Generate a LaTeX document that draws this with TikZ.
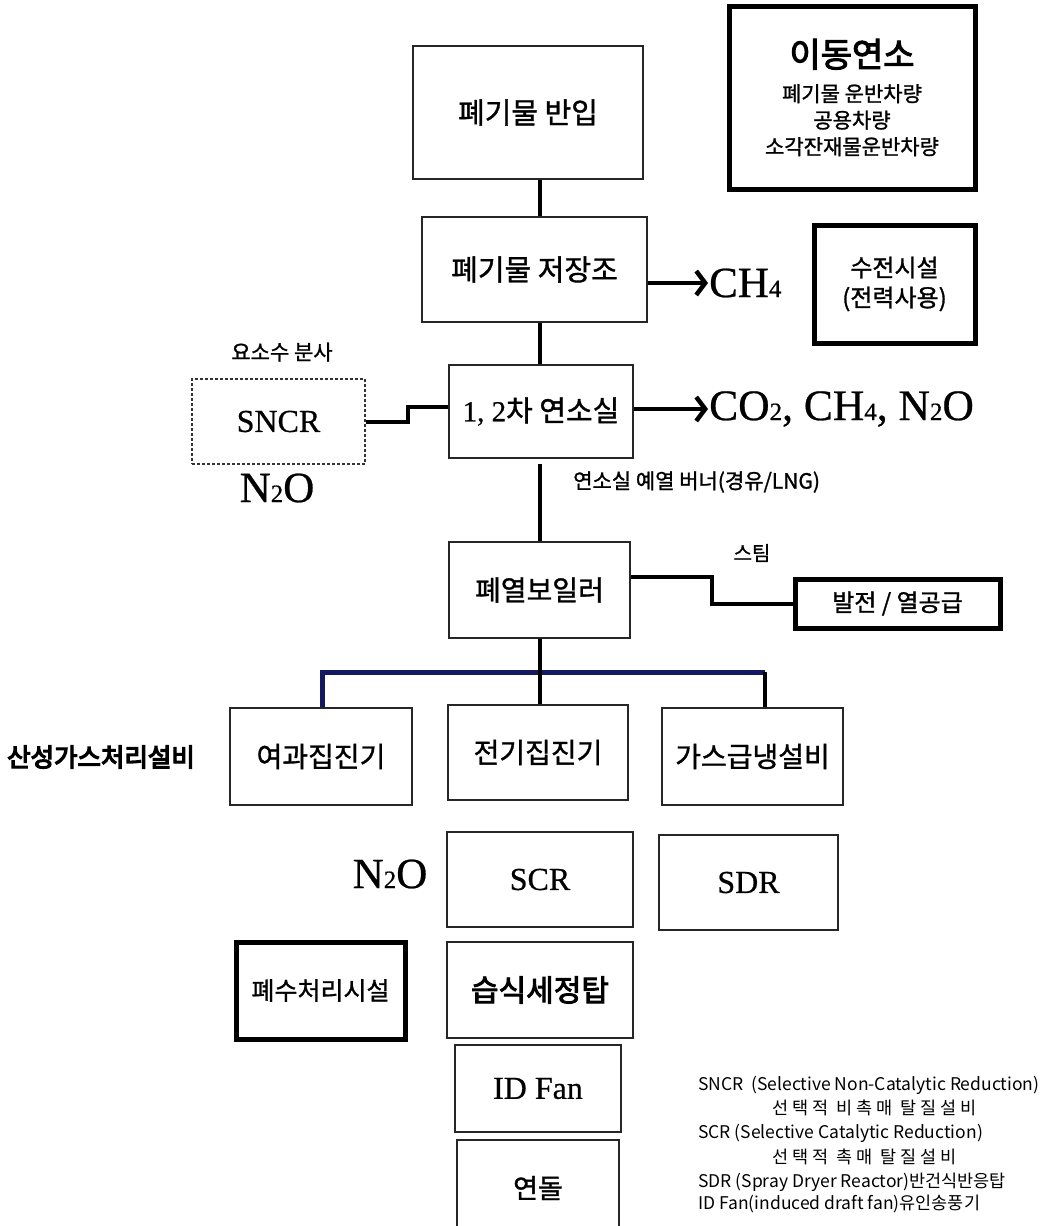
\documentclass[tikz,border=0pt]{standalone}
\usepackage{fontspec}
\setmainfont{Liberation Serif}
\newfontfamily\kr[FakeBold=1.2]{Noto Sans CJK KR}
\newfontfamily\krl{Noto Sans CJK KR}
\newfontfamily\krb[FakeBold=3]{Noto Sans CJK KR}
\newfontfamily\krx[FakeBold=5]{Noto Sans CJK KR}
\newfontfamily\lat[FakeBold=0.6]{Liberation Serif}
\usetikzlibrary{arrows.meta,calc}
\newcommand\fsz[2]{\fontsize{#1}{#2}\selectfont}
\newcommand\sbs[1]{{\fsz{25}{25}#1}}
\definecolor{navy}{RGB}{20,24,96}
\tikzset{
  thinbox/.style={draw=black!85, line width=1.8pt, inner sep=0pt, align=center},
  thickbox/.style={draw=black, line width=5pt, inner sep=0pt, align=center},
  dashbox/.style={draw=black!80, line width=1.5pt, densely dashed, inner sep=0pt, align=center},
  conn/.style={line width=4pt, draw=black},
  bus/.style={line width=5pt, draw=navy},
  arr/.style={line width=4.5pt, -{Straight Barb[length=9pt,width=24pt]}},
  lbl/.style={inner sep=1pt, align=center},
  leg/.style={inner sep=0pt, anchor=west, font=\krl\fsz{17.5}{18}}
}
\begin{document}
\begin{tikzpicture}[x=1pt,y=-1pt]
\useasboundingbox (0,0) rectangle (1050,1226);
\clip (0,0) rectangle (1050,1226);
\fill[white] (0,0) rectangle (1050,1226);

% main column
\node[thinbox, minimum width=230, minimum height=133] (in) at (528,112.5) {\kr\fsz{29}{30}폐기물 반입};
\node[thinbox, minimum width=225, minimum height=105] (store) at (534.5,269.5) {\kr\fsz{29}{30}폐기물 저장조};
\node[thinbox, minimum width=184, minimum height=93] (comb) at (541,411.5) {\lat\fsz{29}{30}1, 2{\kr 차 연소실}};
\node[thinbox, minimum width=181, minimum height=96] (boil) at (539.5,590) {\kr\fsz{28}{30}폐열보일러};
\node[thinbox, minimum width=182, minimum height=97] (fil) at (321,756.5) {\kr\fsz{28}{30}여과집진기};
\node[thinbox, minimum width=180, minimum height=95] (esp) at (538,752.5) {\kr\fsz{28}{30}전기집진기};
\node[thinbox, minimum width=181, minimum height=97] (gas) at (752.5,756.5) {\kr\fsz{28}{30}가스급냉설비};
\node[thinbox, minimum width=186, minimum height=95] (scr) at (540,879.5) {\lat\fsz{32}{32}SCR};
\node[thinbox, minimum width=179, minimum height=95] (sdr) at (748.5,882.5) {\lat\fsz{32}{32}SDR};
\node[thinbox, minimum width=186, minimum height=96] (wet) at (540,990) {\krb\fsz{30}{30}습식세정탑};
\node[thinbox, minimum width=166, minimum height=87] (idf) at (538,1088.5) {\lat\fsz{32}{32}ID Fan};
\node[thinbox, minimum width=162, minimum height=96] (stk) at (538,1188) {\kr\fsz{27}{30}연돌};

% side boxes
\node[thickbox, minimum width=246, minimum height=183, font=\kr\fsz{21}{26.5}] (mob) at (852,97.5)
  {{\krb\fsz{34}{34}이동연소}\\[8pt]폐기물 운반차량\\공용차량\\소각잔재물운반차량};
\node[thickbox, minimum width=161, minimum height=118, font=\kr\fsz{24}{30}] (sup) at (894.5,284)
  {수전시설\\(전력사용)};
\node[dashbox, minimum width=173, minimum height=85] (sncr) at (278.5,421.5) {\lat\fsz{32}{32}SNCR};
\node[thickbox, minimum width=205, minimum height=49] (gen) at (897.5,603.5) {\kr\fsz{24}{26}발전 / 열공급};
\node[thickbox, minimum width=169, minimum height=97] (ww) at (320.5,990.5) {\kr\fsz{25}{26}폐수처리시설};

% labels
\node[lbl, anchor=west] (ch4) at (708,283) {\lat\fsz{43}{43}CH\sbs{4}};
\node[lbl, anchor=west] (co2) at (708,409) {\lat\fsz{43.5}{44}CO\sbs{2}, CH\sbs{4}, N\sbs{2}O};
\node[lbl] (urea) at (282,352) {\kr\fsz{21}{22}요소수 분사};
\node[lbl] (n2oa) at (277,488) {\lat\fsz{43}{43}N\sbs{2}O};
\node[lbl, anchor=west] (burn) at (572,482) {\kr\fsz{21}{22}연소실 예열 버너(경유/LNG)};
\node[lbl] (steam) at (752,553) {\kr\fsz{20}{22}스팀};
\node[lbl] (acid) at (101,757) {\krx\fsz{25.5}{26}산성가스처리설비};
\node[lbl] (n2ob) at (390,874) {\lat\fsz{43}{43}N\sbs{2}O};

% legend
\node[leg] (l1) at (698,1085) {SNCR\ \ (Selective Non-Catalytic Reduction)};
\node[leg] (l2) at (772,1108) {선 택 적\ \ 비 촉 매\ \ 탈 질 설 비};
\node[leg] (l3) at (698,1133) {SCR (Selective Catalytic Reduction)};
\node[leg] (l4) at (772,1157) {선 택 적\ \ 촉 매\ \ 탈 질 설 비};
\node[leg] (l5) at (698,1182) {SDR (Spray Dryer Reactor)반건식반응탑};
\node[leg] (l6) at (698,1204) {ID Fan(induced draft fan)유인송풍기};

% connectors
\coordinate (colx) at (540,0);
\draw[conn] (in.south -| colx) -- (store.north -| colx);
\draw[conn] (store.south -| colx) -- (comb.north -| colx);
\draw[conn] ($(comb.south -| colx)+(0,5)$) -- (boil.north -| colx);
\draw[arr] (store.east |- ch4.west) -- (ch4.west);
\draw[arr] (comb.east |- co2.west) -- (co2.west);
\coordinate (cj) at (0,407);
\draw[conn] (sncr.east) -- ++(42,0) |- (comb.west |- cj);
\coordinate (gj) at (712,577);
\draw[conn] (boil.east |- gj) -- (gj) |- (gen.west);
\coordinate (busL) at (322,672);
\coordinate (busR) at (765,672);
\draw[bus] (fil.north -| busL) -- (busL) -- (busR);
\draw[conn] (busR) -- (gas.north -| busR);
\draw[conn] (boil.south -| colx) -- (esp.north -| colx);
\end{tikzpicture}
\end{document}
